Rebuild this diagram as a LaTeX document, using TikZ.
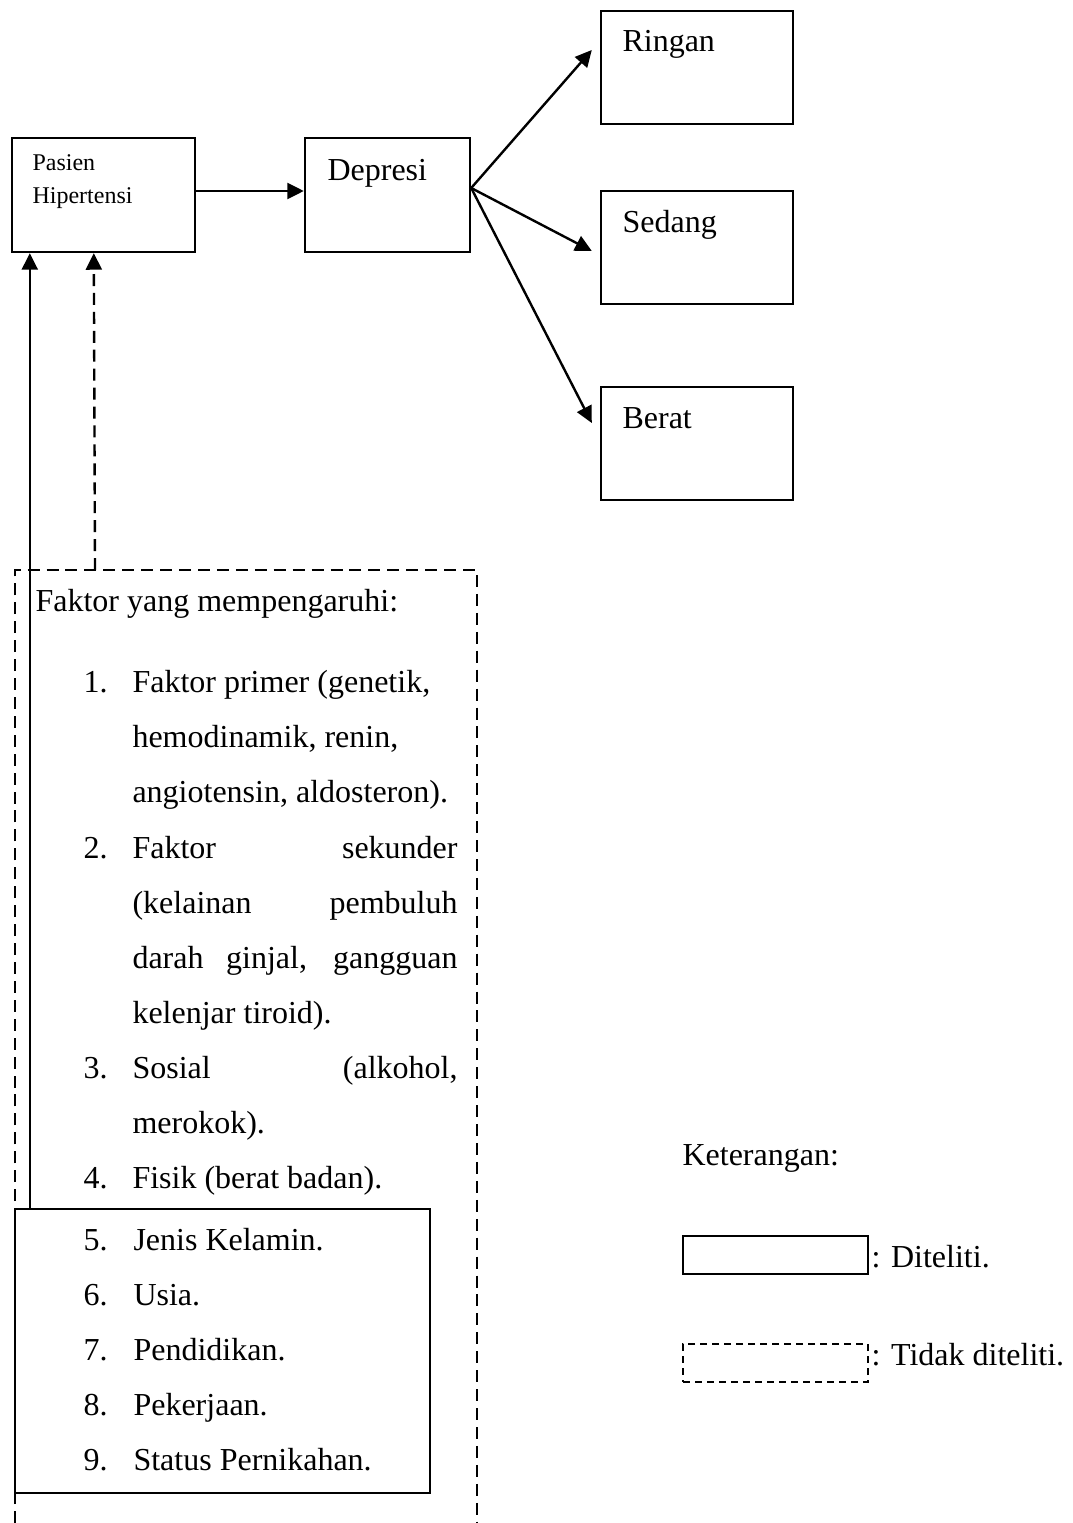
\documentclass[tikz,border=0pt]{standalone}
\usepackage{fontspec}
\setmainfont{Liberation Serif}
\usetikzlibrary{arrows.meta,positioning}
\newcommand{\pxu}{0.375pt}

\begin{document}
\begin{tikzpicture}[
  x=0.375pt,y=-0.375pt,
  box/.style={draw,line width=0.9pt,inner sep=0pt},
  txt/.style={anchor=base west,inner sep=0pt,font=\fontsize{12pt}{14pt}\selectfont},
  small/.style={anchor=base west,inner sep=0pt,font=\fontsize{9pt}{11pt}\selectfont},
  arrow/.style={-{Triangle[length=6.2pt,width=6pt]},line width=0.9pt},
  dashline/.style={line width=0.9pt,dash pattern=on 4.5pt off 2.6pt},
  dashleg/.style={line width=0.9pt,dash pattern=on 2.6pt off 1.9pt}
]
\useasboundingbox (0,0) rectangle (1072,1523);

% upper chain
\node[box,minimum width=183*\pxu,minimum height=114*\pxu] (pasien) at (103.5,195) {};
\node[small] (pasientxt) at (32,170) {Pasien};
\node[small] (hipertxt) at (32,203) {Hipertensi};
\node[box,minimum width=165*\pxu,minimum height=114*\pxu] (depresi) at (387.5,195) {};
\node[txt] (depresitxt) at (327,180) {Depresi};

\node[box,minimum width=192*\pxu,minimum height=113*\pxu] (ringan) at (697,67.5) {};
\node[txt] (ringantxt) at (622,52) {Ringan};
\node[box,minimum width=192*\pxu,minimum height=113*\pxu] (sedang) at (697,247.5) {};
\node[txt] (sedangtxt) at (622,232) {Sedang};
\node[box,minimum width=192*\pxu,minimum height=113*\pxu] (berat) at (697,443.5) {};
\node[txt] (berattxt) at (622,428) {Berat};

\draw[arrow] ([yshift=4*\pxu]pasien.east) -- ([yshift=4*\pxu]depresi.west);
\draw[arrow] ([yshift=7*\pxu]depresi.east) -- ([xshift=-8*\pxu,yshift=17.5*\pxu]ringan.west);
\draw[arrow] ([yshift=7*\pxu]depresi.east) -- ([xshift=-8*\pxu,yshift=-3.5*\pxu]sedang.west);
\draw[arrow] ([yshift=7*\pxu]depresi.east) -- ([xshift=-8*\pxu,yshift=20.5*\pxu]berat.west);

% factors (dashed frame runs past the page bottom)
\draw[dashline] (15,1523) |- (477,570) -- (477,1523);
\coordinate (faktortop) at (95,570);
\node[box,minimum width=415*\pxu,minimum height=284*\pxu] (kelompok) at (222.5,1351) {};

\draw[arrow] ([xshift=16*\pxu]kelompok.north west) -- ([xshift=19*\pxu]pasien.south west);
\draw[arrow,dashline] (faktortop) -- ([xshift=83*\pxu]pasien.south west);

\node[txt] (faktorjudul) at (35,611) {Faktor yang mempengaruhi:};
\node[txt] (n1) at (83,692) {1.};
\node[txt] (l1) at (132,692) {Faktor primer (genetik,};
\node[txt] (l2) at (132,747) {hemodinamik, renin,};
\node[txt] (l3) at (132,802) {angiotensin, aldosteron).};
\node[txt] (n2) at (83,858) {2.};
\node[txt] (l4) at (132,858) {\makebox[121.9pt][s]{Faktor sekunder}};
\node[txt] (l5) at (132,913) {\makebox[121.9pt][s]{(kelainan pembuluh}};
\node[txt] (l6) at (132,968) {\makebox[121.9pt][s]{darah ginjal, gangguan}};
\node[txt] (l7) at (132,1023) {kelenjar tiroid).};
\node[txt] (n3) at (83,1078) {3.};
\node[txt] (l8) at (132,1078) {\makebox[121.9pt][s]{Sosial (alkohol,}};
\node[txt] (l9) at (132,1133) {merokok).};
\node[txt] (n4) at (83,1188) {4.};
\node[txt] (l10) at (132,1188) {Fisik (berat badan).};

\foreach \n/\t [count=\i from 0] in {5/Jenis Kelamin.,6/Usia.,7/Pendidikan.,8/Pekerjaan.,9/Status Pernikahan.}{
  \node[txt] (num\n) at (83,1250+55*\i) {\n.};
  \node[txt] (item\n) at (133,1250+55*\i) {\t};
}

% legend
\node[txt] (keterangan) at (682,1165) {Keterangan:};
\node[box,minimum width=185*\pxu,minimum height=38*\pxu] (legA) at (775.5,1255) {};
\node[txt] (legAtxt) at (871,1267) {: Diteliti.};
\node[draw,dashleg,inner sep=0pt,minimum width=185*\pxu,minimum height=38*\pxu] (legB) at (775.5,1363) {};
\node[txt] (legBtxt) at (871,1365) {: Tidak diteliti.};
\end{tikzpicture}
\end{document}
